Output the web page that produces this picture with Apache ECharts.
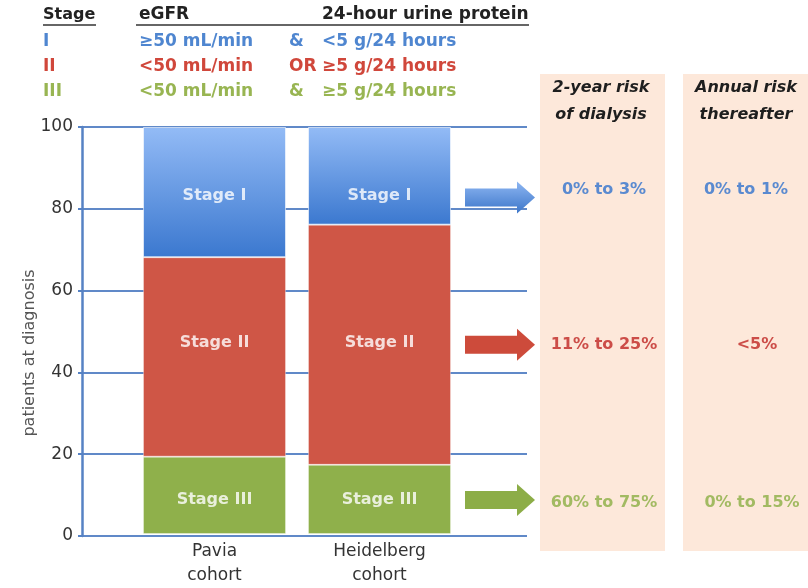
<!DOCTYPE html>
<html>
<head>
<meta charset="utf-8">
<script src="https://cdn.jsdelivr.net/npm/echarts@6/dist/echarts.min.js"></script>
<style>
  html, body { margin: 0; padding: 0; background: #ffffff; }
  #chart { width: 808px; height: 588px; }
</style>
</head>
<body>
<div id="chart"></div>
<script>
// Cohorts on the x axis
const cohorts = ['Pavia\ncohort', 'Heidelberg\ncohort'];
// Share of patients at diagnosis per stage (%), one value per cohort
const stageI = [32, 24];
const stageII = [49, 59];
const stageIII = [19, 17];
const stageNames = ['Stage I', 'Stage II', 'Stage III'];
// Heights (axis units) where the stage captions and arrows sit
const stageLevels = [83, 47, 8.3];
// Outcome per stage
const risk2yr = ['0% to 3%', '11% to 25%', '60% to 75%'];
const riskAnnual = ['0% to 1%', '<5%', '0% to 15%'];
// Stage criteria table
const tableHead = ['Stage', 'eGFR', '24-hour urine protein'];
const stageRoman = ['I', 'II', 'III'];
const egfr = ['\u226550 mL/min', '<50 mL/min', '<50 mL/min'];
const joiner = ['&', 'OR', '&'];
const protein = ['<5 g/24 hours', '\u22655 g/24 hours', '\u22655 g/24 hours'];

const stageColors = ['#4f86d0', '#d0473b', '#98b552'];
const riskColors = ['#5a8ad0', '#cc4d48', '#a2ba62'];
const FONT = '"DejaVu Sans", sans-serif';

const chart = echarts.init(document.getElementById('chart'));

const blueGrad = new echarts.graphic.LinearGradient(0, 0, 0, 1, [
  { offset: 0, color: '#93bbf6' },
  { offset: 1, color: '#3b78cf' }
]);

function txt(text, x, y, color, opts) {
  opts = opts || {};
  return {
    type: 'text', z: 20,
    style: {
      text: text, x: x, y: y, fill: color,
      font: (opts.italic ? 'italic ' : '') + (opts.weight || 'bold') + ' ' + (opts.size || 17) + 'px ' + FONT,
      textAlign: opts.align || 'left', textVerticalAlign: 'middle'
    }
  };
}

const graphics = [];
// criteria table
graphics.push(txt(tableHead[0], 43, 15, '#222', { size: 16 }));
graphics.push(txt(tableHead[1], 139, 15, '#222'));
graphics.push(txt(tableHead[2], 322, 15, '#222'));
graphics.push({ type: 'line', z: 20, shape: { x1: 43, y1: 25, x2: 96, y2: 25 }, style: { stroke: '#333', lineWidth: 1.5 } });
graphics.push({ type: 'line', z: 20, shape: { x1: 136, y1: 25, x2: 529, y2: 25 }, style: { stroke: '#333', lineWidth: 1.5 } });
const rowY = [42, 67, 92];
for (let i = 0; i < 3; i++) {
  graphics.push(txt(stageRoman[i], 43, rowY[i], stageColors[i]));
  graphics.push(txt(egfr[i], 139, rowY[i], stageColors[i]));
  graphics.push(txt(joiner[i], 289, rowY[i], stageColors[i]));
  graphics.push(txt(protein[i], 322, rowY[i], stageColors[i]));
}

// outcome panels
graphics.push({ type: 'rect', z: 1, shape: { x: 540, y: 74, width: 125, height: 477 }, style: { fill: '#fde8da' } });
graphics.push({ type: 'rect', z: 1, shape: { x: 683, y: 74, width: 130, height: 477 }, style: { fill: '#fde8da' } });
graphics.push(txt('2-year risk', 601, 88, '#1e1e1e', { italic: true, size: 16, align: 'center' }));
graphics.push(txt('of dialysis', 601, 115, '#1e1e1e', { italic: true, size: 16, align: 'center' }));
graphics.push(txt('Annual risk', 746, 88, '#1e1e1e', { italic: true, size: 16, align: 'center' }));
graphics.push(txt('thereafter', 746, 115, '#1e1e1e', { italic: true, size: 16, align: 'center' }));
const riskY = [190, 345, 503];
const riskX2 = [746, 757, 752];
for (let i = 0; i < 3; i++) {
  graphics.push(txt(risk2yr[i], 604, riskY[i], riskColors[i], { size: 16, align: 'center' }));
  graphics.push(txt(riskAnnual[i], riskX2[i], riskY[i], riskColors[i], { size: 16, align: 'center' }));
}

chart.setOption({
  animation: false,
  backgroundColor: '#ffffff',
  grid: [
    { left: 82, right: 281, top: 127, bottom: 52 },
    { left: 132, width: 330, top: 127, bottom: 52 }
  ],
  xAxis: [
    { gridIndex: 0, type: 'value', show: false, min: 0, max: 1 },
    {
      gridIndex: 1, type: 'category', data: cohorts,
      axisLine: { show: false }, axisTick: { show: false },
      axisLabel: { color: '#333', fontSize: 17, lineHeight: 24, margin: 6, fontFamily: FONT }
    }
  ],
  yAxis: [
    {
      gridIndex: 0, type: 'value', min: 0, max: 100, interval: 20,
      axisLine: { show: true, lineStyle: { color: '#5682c4', width: 2.5 } },
      axisTick: { show: true, length: 4, lineStyle: { color: '#5682c4', width: 2 } },
      splitLine: { show: true, lineStyle: { color: '#6089c8', width: 2 } },
      axisLabel: { color: '#333', fontSize: 17, margin: 9, fontFamily: FONT }
    },
    { gridIndex: 1, type: 'value', min: 0, max: 100, interval: 20, show: false, splitLine: { show: false } }
  ],
  series: [
    {
      name: 'Stage III', type: 'bar', stack: 'share', xAxisIndex: 1, yAxisIndex: 1,
      barWidth: 143, data: stageIII, z: 3,
      itemStyle: { color: '#8fb04b', borderColor: 'rgba(255,255,255,0.35)', borderWidth: 1 }
    },
    {
      name: 'Stage II', type: 'bar', stack: 'share', xAxisIndex: 1, yAxisIndex: 1,
      barWidth: 143, data: stageII, z: 3,
      itemStyle: { color: '#cf5646', borderColor: 'rgba(255,255,255,0.35)', borderWidth: 1 }
    },
    {
      name: 'Stage I', type: 'bar', stack: 'share', xAxisIndex: 1, yAxisIndex: 1,
      barWidth: 143, data: stageI, z: 3,
      itemStyle: { color: blueGrad, borderColor: 'rgba(255,255,255,0.35)', borderWidth: 1 }
    },
    {
      // stage captions placed inside the bars
      type: 'scatter', xAxisIndex: 1, yAxisIndex: 1, symbolSize: 0, z: 5, silent: true,
      data: stageNames.flatMap((n, i) => cohorts.map((c, j) => ({ value: [j, stageLevels[i]], name: n }))),
      label: {
        show: true, position: 'inside', formatter: p => p.name,
        color: '#ffffff', fontWeight: 'bold', fontSize: 16, fontFamily: FONT
      }
    }
  ],
  graphic: graphics
});

// arrows pointing from the bars to the outcome panels, at each stage level
const arrowFills = [
  new echarts.graphic.LinearGradient(0, 0, 0, 1, [{ offset: 0, color: '#8db6f2' }, { offset: 1, color: '#3c76c9' }]),
  '#cd4b3b',
  '#8cad47'
];
const extra = stageLevels.map((v, i) => {
  const y = chart.convertToPixel({ yAxisIndex: 0 }, v) + (i === 2 ? -2 : 1);
  return {
    type: 'polygon', z: 10,
    shape: { points: [[465, y - 9], [517, y - 9], [517, y - 16], [535, y], [517, y + 16], [517, y + 9], [465, y + 9]] },
    style: { fill: arrowFills[i] }
  };
});
// y axis title
extra.push({
  type: 'text', z: 20, x: 30, y: 353, rotation: Math.PI / 2,
  style: { text: 'patients at diagnosis', fill: '#555', font: '16px ' + FONT, textAlign: 'center', textVerticalAlign: 'middle' }
});
chart.setOption({ graphic: graphics.concat(extra) });
</script>
</body>
</html>
